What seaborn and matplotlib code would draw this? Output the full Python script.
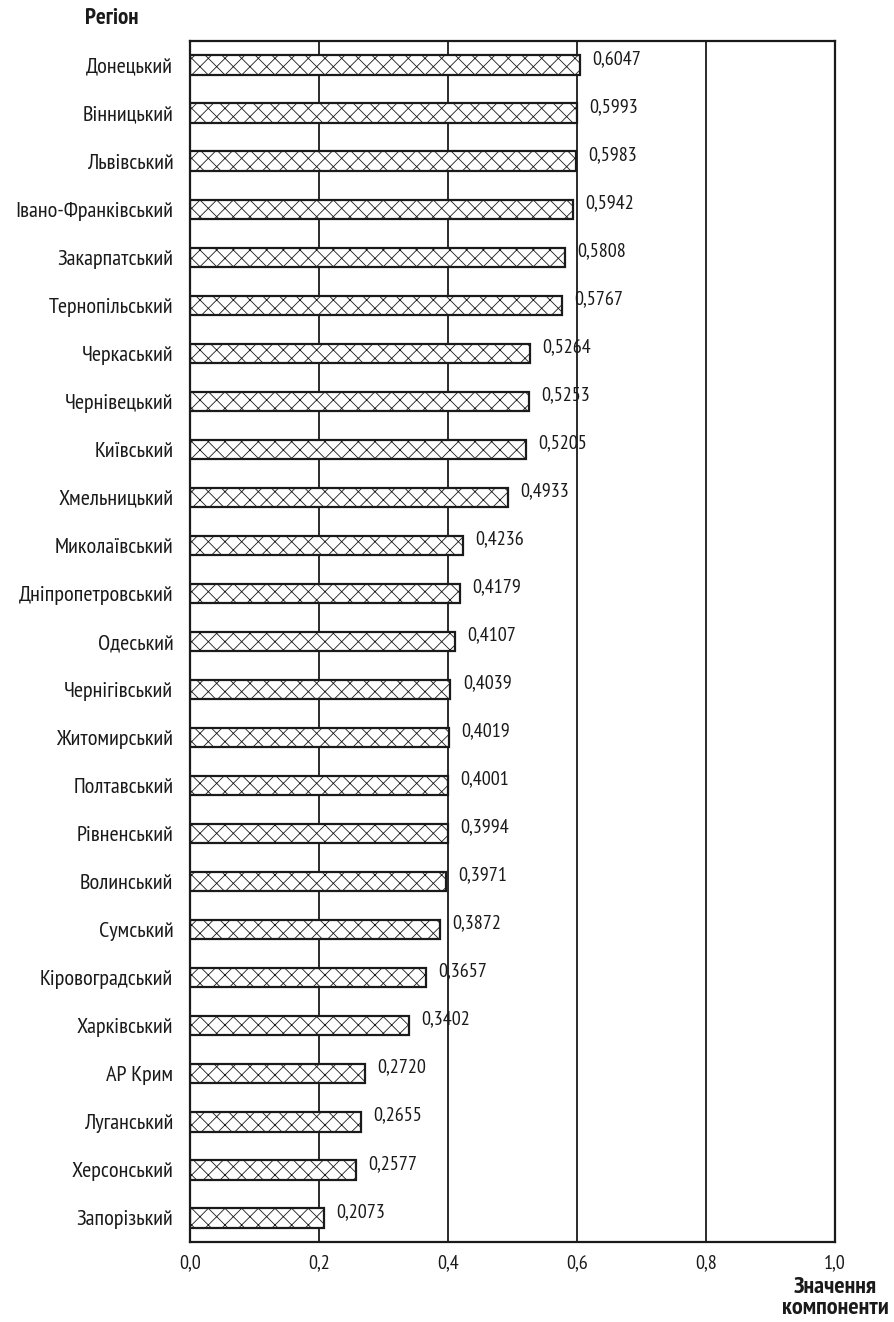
import numpy as np
import pandas as pd
import matplotlib
matplotlib.use("Agg")
import matplotlib.pyplot as plt
from matplotlib.ticker import FuncFormatter, FixedLocator
import seaborn as sns

# Data
regions = ["Донецький", "Вінницький", "Львівський", "Івано-Франківський", "Закарпатський",
           "Тернопільський", "Черкаський", "Чернівецький", "Київський", "Хмельницький",
           "Миколаївський", "Дніпропетровський", "Одеський", "Чернігівський", "Житомирський",
           "Полтавський", "Рівненський", "Волинський", "Сумський", "Кіровоградський",
           "Харківський", "АР Крим", "Луганський", "Херсонський", "Запорізький"]
values = [0.6047, 0.5993, 0.5983, 0.5942, 0.5808, 0.5767, 0.5264, 0.5253, 0.5205, 0.4933,
          0.4236, 0.4179, 0.4107, 0.4039, 0.4019, 0.4001, 0.3994, 0.3971, 0.3872, 0.3657,
          0.3402, 0.2720, 0.2655, 0.2577, 0.2073]
x_ticks = [0.0, 0.2, 0.4, 0.6, 0.8, 1.0]

df = pd.DataFrame({"region": regions, "value": values})

sns.set_style("white")
plt.rcParams['font.family'] = ['PT Sans Narrow', 'DejaVu Sans']
plt.rcParams['hatch.linewidth'] = 0.6

ink = '#1a1a1a'
fs = 14.5

fig = plt.figure(figsize=(8.94, 13.22), dpi=100)
ax = fig.add_axes([0.2125, 0.0605, 0.7215, 0.9085])

# vertical grid lines behind the bars
for x in x_ticks[1:-1]:
    ax.axvline(x, color=ink, lw=1.3, zorder=0)

sns.barplot(data=df, x="value", y="region", orient="h", color="white",
            edgecolor=ink, linewidth=1.6, width=0.4, saturation=1, ax=ax, zorder=2)
for p in ax.patches:
    p.set_hatch('xx')

for i, v in enumerate(values):
    ax.text(v + 0.019, i - 0.13, f"{v:.4f}".replace(".", ","), fontsize=fs,
            va="center", ha="left", color=ink)

ax.set_xlim(0, 1.0)
ax.set_ylim(len(regions) - 0.5, -0.5)
ax.set_xticks(x_ticks)
ax.xaxis.set_major_formatter(FuncFormatter(lambda v, p: f"{v:.1f}".replace(".", ",")))
ax.tick_params(axis='x', length=0, pad=9, labelsize=fs, colors=ink)
ax.tick_params(axis='y', which='major', length=0, pad=12, labelsize=16, colors=ink)
ax.yaxis.set_minor_locator(FixedLocator(np.arange(-0.5, len(regions), 1.0)))
ax.tick_params(axis='y', which='minor', length=9, width=1.6, color=ink)
ax.set_xlabel("")
ax.set_ylabel("")
for s in ax.spines.values():
    s.set_color(ink)
    s.set_linewidth(1.6)

fig.text(112 / 894, 1 - 18 / 1322, "Регіон", fontsize=16.5, fontweight='bold',
         ha='center', va='center', color=ink)
fig.text(835 / 894, 1 - 1298 / 1322, "Значення\nкомпоненти", fontsize=17.5, fontweight='bold',
         ha='center', va='center', linespacing=1.0, color=ink)

fig.savefig("out.png", dpi=100)
